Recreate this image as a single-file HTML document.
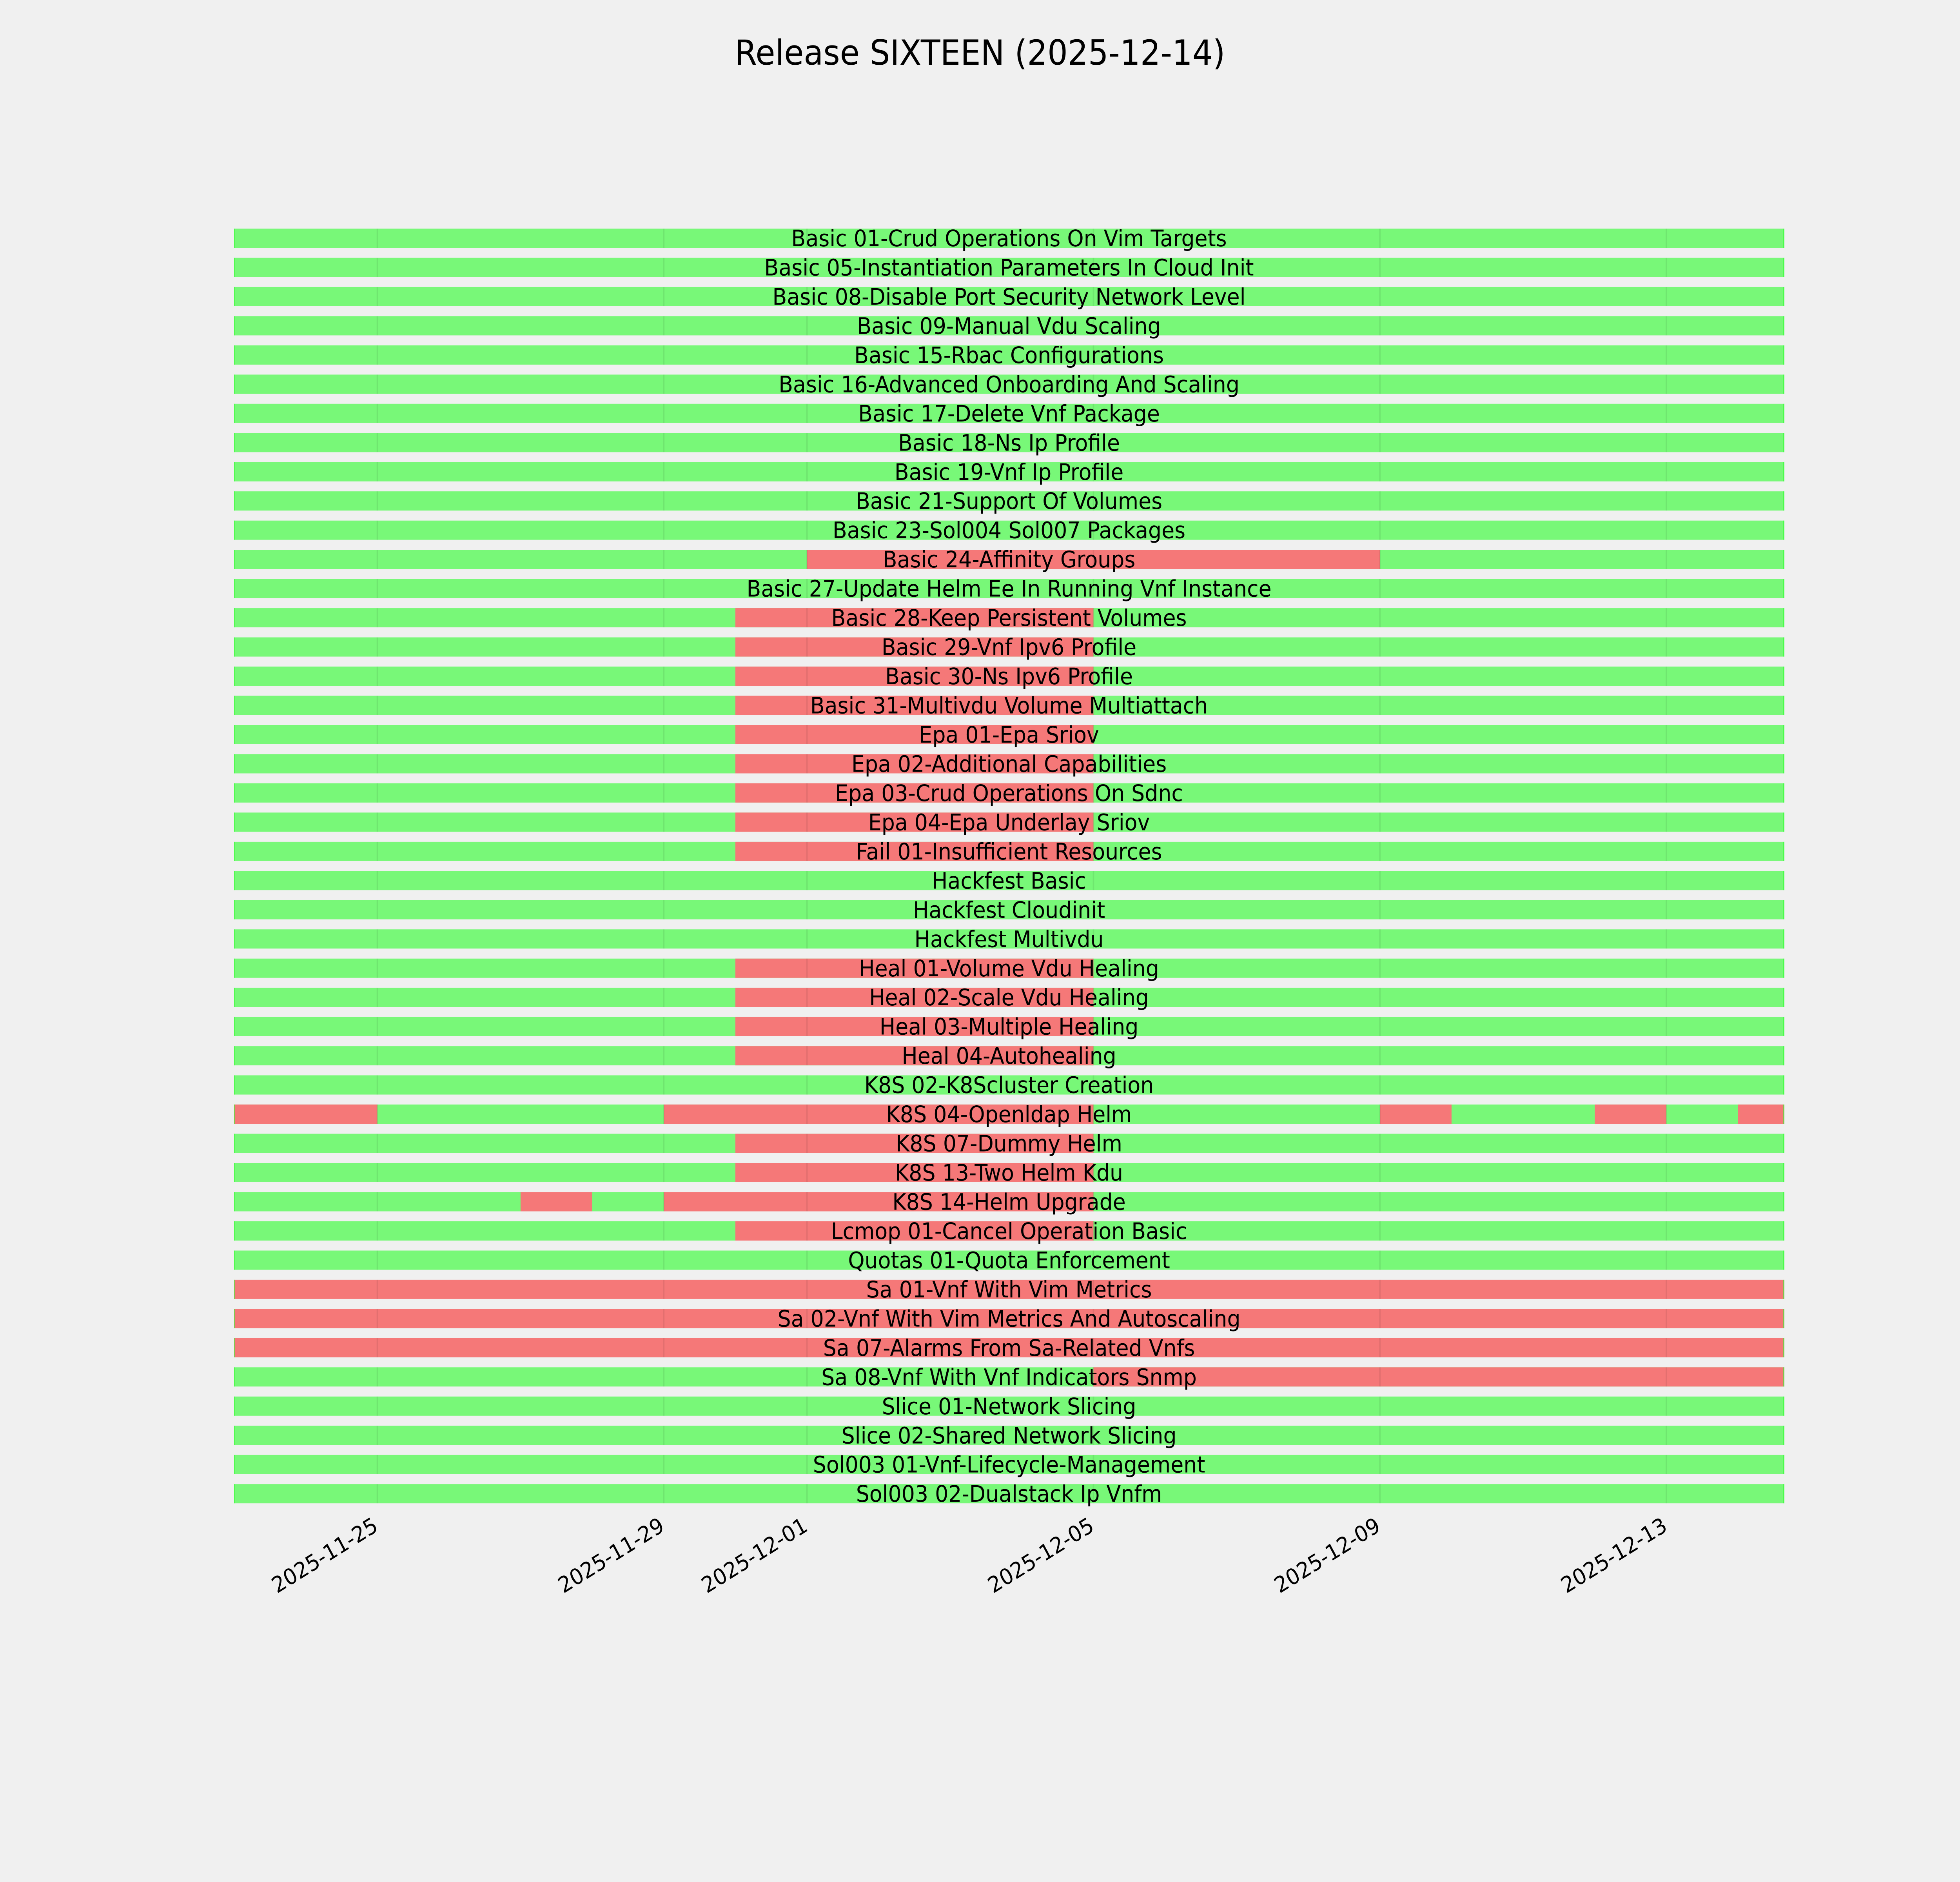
<!DOCTYPE html>
<html><head><meta charset="utf-8"><style>
html,body{margin:0;padding:0;background:#f0f0f0;width:100%;height:100%;overflow:hidden;}
svg{display:block;width:100vw;height:100vh;}
.g{fill:#78f878;}
.r{fill:#f57878;}
.gl{fill:rgba(0,0,0,0.07);}
text{font-family:"DejaVu Sans","Liberation Sans",sans-serif;fill:#000;}
.l{font-size:58px;text-anchor:middle;}
.t{font-size:56px;text-anchor:end;}
</style></head><body>
<svg viewBox="0 0 5400 4800" preserveAspectRatio="none" xmlns="http://www.w3.org/2000/svg">
<rect width="5400" height="4800" fill="#f0f0f0"/>
<defs>
<g id="gl">
<rect class="gl" x="1037.6" y="0" width="4" height="49"/>
<rect class="gl" x="1826.8" y="0" width="4" height="49"/>
<rect class="gl" x="2221.4" y="0" width="4" height="49"/>
<rect class="gl" x="3010.6" y="0" width="4" height="49"/>
<rect class="gl" x="3799.8" y="0" width="4" height="49"/>
<rect class="gl" x="4589" y="0" width="4" height="49"/>
<rect x="645" y="0" width="3" height="49" fill="rgba(40,255,40,0.6)"/>
<rect x="4913" y="0" width="3" height="49" fill="rgba(40,255,40,0.6)"/>
</g>
</defs>
<text x="2700" y="165" style="font-size:88px;text-anchor:middle">Release SIXTEEN (2025-12-14)</text>

<g transform="translate(0,583)"><rect class="g" x="645" width="4271" height="49"/><use href="#gl"/><text class="l" x="2780" y="45">Basic 01-Crud Operations On Vim Targets</text></g>
<g transform="translate(0,657.5)"><rect class="g" x="645" width="4271" height="49"/><use href="#gl"/><text class="l" x="2780" y="45">Basic 05-Instantiation Parameters In Cloud Init</text></g>
<g transform="translate(0,731.9)"><rect class="g" x="645" width="4271" height="49"/><use href="#gl"/><text class="l" x="2780" y="45">Basic 08-Disable Port Security Network Level</text></g>
<g transform="translate(0,806.4)"><rect class="g" x="645" width="4271" height="49"/><use href="#gl"/><text class="l" x="2780" y="45">Basic 09-Manual Vdu Scaling</text></g>
<g transform="translate(0,880.9)"><rect class="g" x="645" width="4271" height="49"/><use href="#gl"/><text class="l" x="2780" y="45">Basic 15-Rbac Configurations</text></g>
<g transform="translate(0,955.4)"><rect class="g" x="645" width="4271" height="49"/><use href="#gl"/><text class="l" x="2780" y="45">Basic 16-Advanced Onboarding And Scaling</text></g>
<g transform="translate(0,1029.8)"><rect class="g" x="645" width="4271" height="49"/><use href="#gl"/><text class="l" x="2780" y="45">Basic 17-Delete Vnf Package</text></g>
<g transform="translate(0,1104.3)"><rect class="g" x="645" width="4271" height="49"/><use href="#gl"/><text class="l" x="2780" y="45">Basic 18-Ns Ip Profile</text></g>
<g transform="translate(0,1178.8)"><rect class="g" x="645" width="4271" height="49"/><use href="#gl"/><text class="l" x="2780" y="45">Basic 19-Vnf Ip Profile</text></g>
<g transform="translate(0,1253.2)"><rect class="g" x="645" width="4271" height="49"/><use href="#gl"/><text class="l" x="2780" y="45">Basic 21-Support Of Volumes</text></g>
<g transform="translate(0,1327.7)"><rect class="g" x="645" width="4271" height="49"/><use href="#gl"/><text class="l" x="2780" y="45">Basic 23-Sol004 Sol007 Packages</text></g>
<g transform="translate(0,1402.2)"><rect class="g" x="645" width="4271" height="49"/><rect class="r" x="2223.4" width="1578.4" height="49"/><use href="#gl"/><text class="l" x="2780" y="45">Basic 24-Affinity Groups</text></g>
<g transform="translate(0,1476.6)"><rect class="g" x="645" width="4271" height="49"/><use href="#gl"/><text class="l" x="2780" y="45">Basic 27-Update Helm Ee In Running Vnf Instance</text></g>
<g transform="translate(0,1551.1)"><rect class="g" x="645" width="4271" height="49"/><rect class="r" x="2026.1" width="986.5" height="49"/><use href="#gl"/><text class="l" x="2780" y="45">Basic 28-Keep Persistent Volumes</text></g>
<g transform="translate(0,1625.6)"><rect class="g" x="645" width="4271" height="49"/><rect class="r" x="2026.1" width="986.5" height="49"/><use href="#gl"/><text class="l" x="2780" y="45">Basic 29-Vnf Ipv6 Profile</text></g>
<g transform="translate(0,1700.1)"><rect class="g" x="645" width="4271" height="49"/><rect class="r" x="2026.1" width="986.5" height="49"/><use href="#gl"/><text class="l" x="2780" y="45">Basic 30-Ns Ipv6 Profile</text></g>
<g transform="translate(0,1774.5)"><rect class="g" x="645" width="4271" height="49"/><rect class="r" x="2026.1" width="986.5" height="49"/><use href="#gl"/><text class="l" x="2780" y="45">Basic 31-Multivdu Volume Multiattach</text></g>
<g transform="translate(0,1849)"><rect class="g" x="645" width="4271" height="49"/><rect class="r" x="2026.1" width="986.5" height="49"/><use href="#gl"/><text class="l" x="2780" y="45">Epa 01-Epa Sriov</text></g>
<g transform="translate(0,1923.5)"><rect class="g" x="645" width="4271" height="49"/><rect class="r" x="2026.1" width="986.5" height="49"/><use href="#gl"/><text class="l" x="2780" y="45">Epa 02-Additional Capabilities</text></g>
<g transform="translate(0,1997.9)"><rect class="g" x="645" width="4271" height="49"/><rect class="r" x="2026.1" width="986.5" height="49"/><use href="#gl"/><text class="l" x="2780" y="45">Epa 03-Crud Operations On Sdnc</text></g>
<g transform="translate(0,2072.4)"><rect class="g" x="645" width="4271" height="49"/><rect class="r" x="2026.1" width="986.5" height="49"/><use href="#gl"/><text class="l" x="2780" y="45">Epa 04-Epa Underlay Sriov</text></g>
<g transform="translate(0,2146.9)"><rect class="g" x="645" width="4271" height="49"/><rect class="r" x="2026.1" width="986.5" height="49"/><use href="#gl"/><text class="l" x="2780" y="45">Fail 01-Insufficient Resources</text></g>
<g transform="translate(0,2221.3)"><rect class="g" x="645" width="4271" height="49"/><use href="#gl"/><text class="l" x="2780" y="45">Hackfest Basic</text></g>
<g transform="translate(0,2295.8)"><rect class="g" x="645" width="4271" height="49"/><use href="#gl"/><text class="l" x="2780" y="45">Hackfest Cloudinit</text></g>
<g transform="translate(0,2370.3)"><rect class="g" x="645" width="4271" height="49"/><use href="#gl"/><text class="l" x="2780" y="45">Hackfest Multivdu</text></g>
<g transform="translate(0,2444.8)"><rect class="g" x="645" width="4271" height="49"/><rect class="r" x="2026.1" width="986.5" height="49"/><use href="#gl"/><text class="l" x="2780" y="45">Heal 01-Volume Vdu Healing</text></g>
<g transform="translate(0,2519.2)"><rect class="g" x="645" width="4271" height="49"/><rect class="r" x="2026.1" width="986.5" height="49"/><use href="#gl"/><text class="l" x="2780" y="45">Heal 02-Scale Vdu Healing</text></g>
<g transform="translate(0,2593.7)"><rect class="g" x="645" width="4271" height="49"/><rect class="r" x="2026.1" width="986.5" height="49"/><use href="#gl"/><text class="l" x="2780" y="45">Heal 03-Multiple Healing</text></g>
<g transform="translate(0,2668.2)"><rect class="g" x="645" width="4271" height="49"/><rect class="r" x="2026.1" width="986.5" height="49"/><use href="#gl"/><text class="l" x="2780" y="45">Heal 04-Autohealing</text></g>
<g transform="translate(0,2742.6)"><rect class="g" x="645" width="4271" height="49"/><use href="#gl"/><text class="l" x="2780" y="45">K8S 02-K8Scluster Creation</text></g>
<g transform="translate(0,2817.1)"><rect class="g" x="645" width="4271" height="49"/><rect class="r" x="645" width="394.6" height="49"/><rect class="r" x="1828.8" width="1183.8" height="49"/><rect class="r" x="3801.8" width="197.3" height="49"/><rect class="r" x="4393.7" width="197.3" height="49"/><rect class="r" x="4788.3" width="127.7" height="49"/><use href="#gl"/><text class="l" x="2780" y="45">K8S 04-Openldap Helm</text></g>
<g transform="translate(0,2891.6)"><rect class="g" x="645" width="4271" height="49"/><rect class="r" x="2026.1" width="986.5" height="49"/><use href="#gl"/><text class="l" x="2780" y="45">K8S 07-Dummy Helm</text></g>
<g transform="translate(0,2966)"><rect class="g" x="645" width="4271" height="49"/><rect class="r" x="2026.1" width="986.5" height="49"/><use href="#gl"/><text class="l" x="2780" y="45">K8S 13-Two Helm Kdu</text></g>
<g transform="translate(0,3040.5)"><rect class="g" x="645" width="4271" height="49"/><rect class="r" x="1434.2" width="197.3" height="49"/><rect class="r" x="1828.8" width="1183.8" height="49"/><use href="#gl"/><text class="l" x="2780" y="45">K8S 14-Helm Upgrade</text></g>
<g transform="translate(0,3115)"><rect class="g" x="645" width="4271" height="49"/><rect class="r" x="2026.1" width="986.5" height="49"/><use href="#gl"/><text class="l" x="2780" y="45">Lcmop 01-Cancel Operation Basic</text></g>
<g transform="translate(0,3189.5)"><rect class="g" x="645" width="4271" height="49"/><use href="#gl"/><text class="l" x="2780" y="45">Quotas 01-Quota Enforcement</text></g>
<g transform="translate(0,3263.9)"><rect class="r" x="645" width="4271" height="49"/><use href="#gl"/><text class="l" x="2780" y="45">Sa 01-Vnf With Vim Metrics</text></g>
<g transform="translate(0,3338.4)"><rect class="r" x="645" width="4271" height="49"/><use href="#gl"/><text class="l" x="2780" y="45">Sa 02-Vnf With Vim Metrics And Autoscaling</text></g>
<g transform="translate(0,3412.9)"><rect class="r" x="645" width="4271" height="49"/><use href="#gl"/><text class="l" x="2780" y="45">Sa 07-Alarms From Sa-Related Vnfs</text></g>
<g transform="translate(0,3487.3)"><rect class="g" x="645" width="4271" height="49"/><rect class="r" x="3012.6" width="1903.4" height="49"/><use href="#gl"/><text class="l" x="2780" y="45">Sa 08-Vnf With Vnf Indicators Snmp</text></g>
<g transform="translate(0,3561.8)"><rect class="g" x="645" width="4271" height="49"/><use href="#gl"/><text class="l" x="2780" y="45">Slice 01-Network Slicing</text></g>
<g transform="translate(0,3636.3)"><rect class="g" x="645" width="4271" height="49"/><use href="#gl"/><text class="l" x="2780" y="45">Slice 02-Shared Network Slicing</text></g>
<g transform="translate(0,3710.7)"><rect class="g" x="645" width="4271" height="49"/><use href="#gl"/><text class="l" x="2780" y="45">Sol003 01-Vnf-Lifecycle-Management</text></g>
<g transform="translate(0,3785.2)"><rect class="g" x="645" width="4271" height="49"/><use href="#gl"/><text class="l" x="2780" y="45">Sol003 02-Dualstack Ip Vnfm</text></g>

<text class="t" transform="translate(1045,3902) rotate(-30)">2025-11-25</text>
<text class="t" transform="translate(1834,3902) rotate(-30)">2025-11-29</text>
<text class="t" transform="translate(2229,3902) rotate(-30)">2025-12-01</text>
<text class="t" transform="translate(3018,3902) rotate(-30)">2025-12-05</text>
<text class="t" transform="translate(3807,3902) rotate(-30)">2025-12-09</text>
<text class="t" transform="translate(4597,3902) rotate(-30)">2025-12-13</text>
</svg>
</body></html>
